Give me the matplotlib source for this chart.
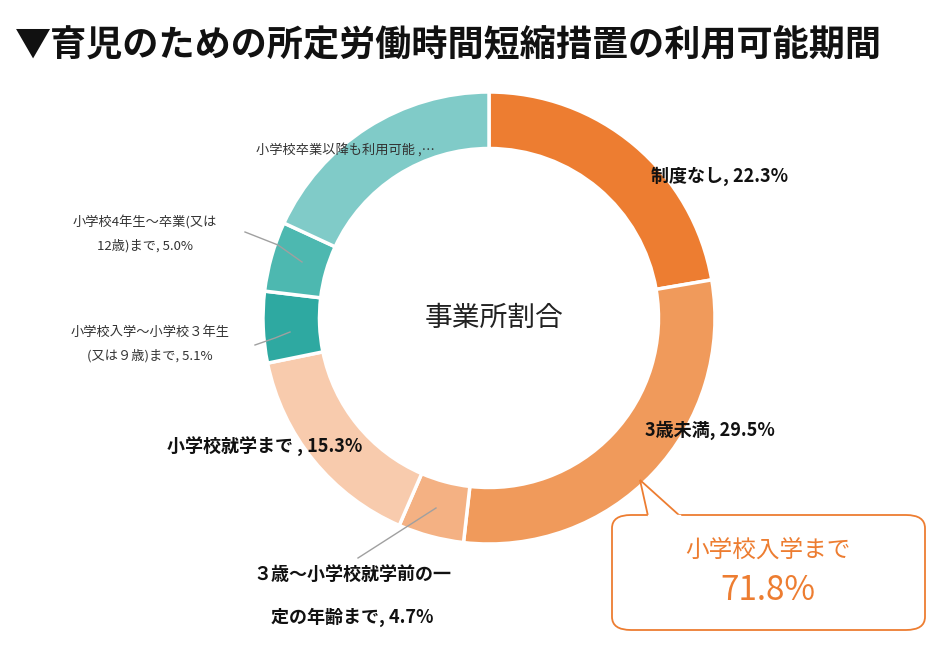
import matplotlib
matplotlib.use("Agg")
import matplotlib.pyplot as plt
from matplotlib.patches import FancyBboxPatch, Polygon

plt.rcParams["font.family"] = ["Noto Sans CJK JP", "DejaVu Sans"]

LABELS = ["制度なし", "3歳未満", "３歳～小学校就学前の一\n定の年齢まで", "小学校就学まで ",
          "小学校入学～小学校３年生\n(又は９歳)まで", "小学校4年生～卒業(又は\n12歳)まで",
          "小学校卒業以降も利用可能 ,…"]
VALUES = [22.3, 29.5, 4.7, 15.3, 5.1, 5.0, 18.1]
COLORS = ["#ED7D31", "#F09A5B", "#F4B183", "#F8CBAD", "#2EA9A1", "#4DB8B0", "#80CBC8"]
BIG = [True, True, True, True, False, False, False]
CALLOUT = ("小学校入学まで", "71.8%")

W, H = 952, 658
fig = plt.figure(figsize=(W / 100, H / 100), dpi=100)


def fx(x):
    return x / W


def fy(y):
    return 1 - y / H


cx, cy, r = 489, 318, 226
ax = fig.add_axes([fx(cx - r), fy(cy + r), 2 * r / W, 2 * r / H])
ax.pie(VALUES, colors=COLORS, startangle=90, counterclock=False, radius=1,
       wedgeprops=dict(width=0.25, edgecolor="white", linewidth=2.5))
ax.set_xlim(-1, 1)
ax.set_ylim(-1, 1)
ax.set_aspect("auto")
ax.axis("off")

fig.text(fx(15), fy(45), "▼育児のための所定労働時間短縮措置の利用可能期間",
         fontsize=26, fontweight="bold", va="center", ha="left", color="#111111")
fig.text(fx(494), fy(318), "事業所割合", fontsize=20, ha="center", va="center",
         color="#222222")

# label positions (pixels) and alignment
POS = [(720, 176, "center"), (710, 430, "center"), (352, 596, "center"),
       (265, 447, "center"), (150, 344, "center"), (145, 234, "center"),
       (345, 150, "center")]
for lab, v, big, (x, y, ha) in zip(LABELS, VALUES, BIG, POS):
    txt = f"{lab}, {v}%" if "…" not in lab else lab
    if big:
        fig.text(fx(x), fy(y), txt, fontsize=13, fontweight="bold", ha=ha,
                 va="center", color="#111111", linespacing=2.6)
    else:
        fig.text(fx(x), fy(y), txt, fontsize=9.5, ha=ha, va="center",
                 color="#333333", linespacing=2.0)

# leader lines
for pts in [[(245, 232), (278, 245), (302, 262)],
            [(255, 345), (275, 338), (290, 332)],
            [(358, 558), (436, 508)]]:
    fig.add_artist(plt.Line2D([fx(p[0]) for p in pts], [fy(p[1]) for p in pts],
                              color="#A0A0A0", lw=1))

# callout box
box = FancyBboxPatch((fx(612), fy(630)), fx(925) - fx(612), fy(515) - fy(630),
                     boxstyle="round,pad=0,rounding_size=0.02",
                     transform=fig.transFigure, facecolor="white",
                     edgecolor="#ED7D31", lw=1.3)
fig.add_artist(box)
fig.add_artist(Polygon([(fx(648), fy(516)), (fx(640), fy(480)), (fx(680), fy(516))],
                       closed=False, transform=fig.transFigure, facecolor="white",
                       edgecolor="#ED7D31", lw=1.3))
fig.add_artist(plt.Line2D([fx(649), fx(679)], [fy(515.5), fy(515.5)], color="white", lw=2.5))
fig.text(fx(768), fy(550), CALLOUT[0], fontsize=17, color="#ED7D31", ha="center", va="center")
fig.text(fx(768), fy(590), CALLOUT[1], fontsize=24, color="#ED7D31", ha="center", va="center")

fig.savefig("out.png", dpi=100, facecolor="white")
